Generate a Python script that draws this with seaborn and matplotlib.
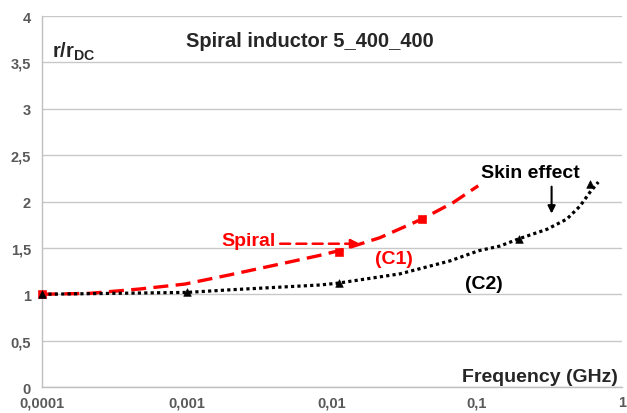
import matplotlib
matplotlib.use("Agg")
import matplotlib.pyplot as plt
import seaborn as sns

# Red dashed curve (C1) - spiral
spiral_freq = [0.0001, 0.000214, 0.000474, 0.000968, 0.00198, 0.00438, 0.00826,
               0.0112, 0.0214, 0.0416, 0.0687, 0.102]
spiral_r = [1.00, 1.01, 1.057, 1.11, 1.21, 1.326, 1.42, 1.47, 1.61, 1.81, 1.99, 2.17]
spiral_pts_freq = [0.0001, 0.0112, 0.0416]
spiral_pts_r = [1.00, 1.46, 1.81]

# Black dotted curve (C2) - skin effect
skin_freq = [0.0001, 0.001, 0.00209, 0.00826, 0.0110, 0.0294, 0.0652, 0.103,
             0.144, 0.196, 0.303, 0.416, 0.513, 0.601, 0.687]
skin_r = [1.00, 1.02, 1.05, 1.10, 1.12, 1.22, 1.36, 1.47, 1.52, 1.60, 1.70,
          1.81, 1.95, 2.10, 2.21]
skin_pts_freq = [0.0001, 0.001, 0.0111, 0.196, 0.601]
skin_pts_r = [1.00, 1.02, 1.12, 1.60, 2.19]

x_ticks = [0.0001, 0.001, 0.01, 0.1, 1]
x_labels = ["0,0001", "0,001", "0,01", "0,1", "1"]
y_ticks = [0, 0.5, 1, 1.5, 2, 2.5, 3, 3.5, 4]
y_labels = ["0", "0,5", "1", "1,5", "2", "2,5", "3", "3,5", "4"]

sns.set_style("white")
plt.rcParams["font.family"] = ["Liberation Sans", "DejaVu Sans"]
plt.rcParams["mathtext.fontset"] = "custom"
plt.rcParams["mathtext.rm"] = "Liberation Sans"
plt.rcParams["mathtext.bf"] = "Liberation Sans:bold"

fig = plt.figure(figsize=(6.27, 4.14), dpi=100)
ax = fig.add_axes([0.067, 0.0628, 0.925, 0.896])

# curves
sns.lineplot(x=spiral_freq, y=spiral_r, ax=ax, color="#ff0000", linewidth=2.4,
             linestyle=(0, (4.5, 2.2)), dash_capstyle="butt")
sns.lineplot(x=skin_freq, y=skin_r, ax=ax, color="black", linewidth=2.3,
             linestyle=(0, (1, 1)), dash_capstyle="butt")

# markers
sns.scatterplot(x=spiral_pts_freq, y=spiral_pts_r, ax=ax, marker="s", s=30,
                color="#ff0000", edgecolor="#ff0000", clip_on=False, zorder=5)
sns.scatterplot(x=skin_pts_freq, y=skin_pts_r, ax=ax, marker="^", s=30,
                color="black", edgecolor="black", clip_on=False, zorder=5)

ax.set_xscale("log")
ax.set_xlim(0.0001, 1)
ax.set_ylim(0, 4)
ax.set_xticks(x_ticks)
ax.set_xticklabels(x_labels)
ax.set_yticks(y_ticks)
ax.set_yticklabels(y_labels)
ax.minorticks_off()
ax.tick_params(axis="both", length=0, labelsize=10.5, labelcolor="#595959")
ax.tick_params(axis="y", pad=8)
ax.tick_params(axis="x", pad=6)
for lab in ax.get_xticklabels() + ax.get_yticklabels():
    lab.set_fontweight("bold")

ax.grid(axis="y", color="#c8c8c8", linewidth=1)
ax.grid(axis="x", visible=False)
for side in ["top", "right"]:
    ax.spines[side].set_visible(False)
for side in ["left", "bottom"]:
    ax.spines[side].set_color("#bfbfbf")
    ax.spines[side].set_linewidth(1)
ax.set_xlabel("")
ax.set_ylabel("")

# texts
ax.text(0.461, 0.933, "Spiral inductor 5_400_400", transform=ax.transAxes,
        ha="center", va="center", fontsize=14.5, fontweight="bold")
ax.text(0.017, 0.905, r"$\mathbf{r/r_{DC}}$", transform=ax.transAxes,
        ha="left", va="center", fontsize=14.5)
ax.text(0.993, 0.027, "Frequency (GHz)", transform=ax.transAxes,
        ha="right", va="center", fontsize=14, fontweight="bold")

ax.text(0.00265, 1.585, "Spiral", color="#ff0000", ha="center", va="center",
        fontsize=14, fontweight="bold")
ax.annotate("", xy=(0.0163, 1.545), xytext=(0.0042, 1.545),
            arrowprops=dict(arrowstyle="-|>", color="#ff0000", lw=1.8,
                            linestyle=(0, (4, 2.5)), mutation_scale=13))
ax.text(0.0268, 1.39, "(C1)", color="#ff0000", ha="center", va="center",
        fontsize=14, fontweight="bold")
ax.text(0.112, 1.12, "(C2)", color="black", ha="center", va="center",
        fontsize=14, fontweight="bold")
ax.text(0.235, 2.31, "Skin effect", color="black", ha="center", va="center",
        fontsize=14, fontweight="bold")
ax.annotate("", xy=(0.327, 1.84), xytext=(0.327, 2.19),
            arrowprops=dict(arrowstyle="-|>", color="black", lw=1.5,
                            mutation_scale=11))

fig.savefig("out.png", dpi=100)
